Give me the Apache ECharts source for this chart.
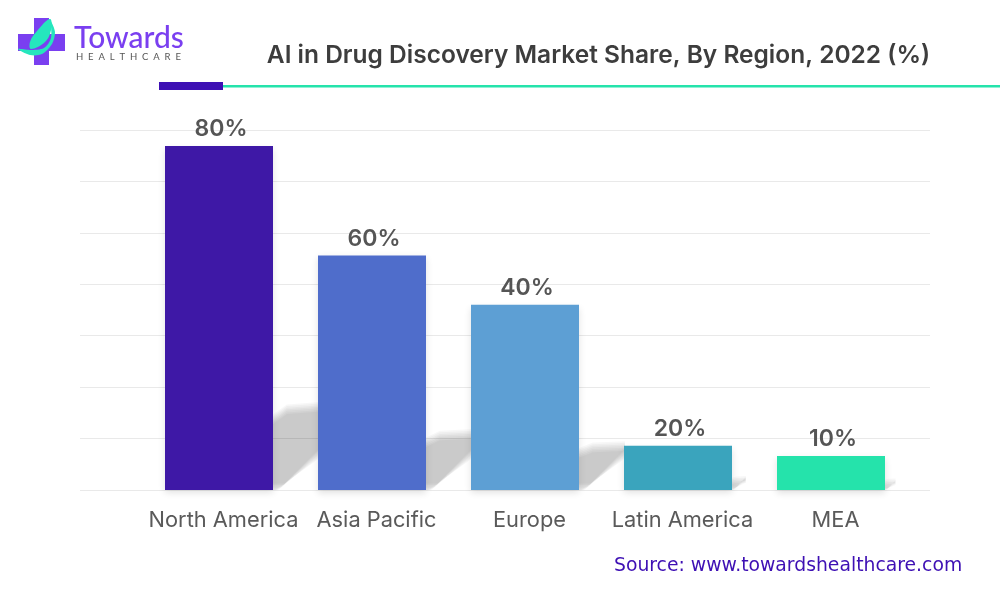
<!DOCTYPE html>
<html>
<head>
<meta charset="utf-8">
<style>html,body{margin:0;padding:0;background:#fff}#chart{width:1000px;height:593px}</style>
<script src="https://cdn.jsdelivr.net/npm/echarts@6/dist/echarts.min.js"></script>
</head>
<body>
<div id="chart"></div>
<script>
var categories = ['North America', 'Asia Pacific', 'Europe', 'Latin America', 'MEA'];
// bar heights as drawn in the picture (they do not follow the printed labels)
var barValues = [66.9, 45.6, 36, 8.6, 6.6];
var shareLabels = ['80%', '60%', '40%', '20%', '10%'];
var barColors = ['#3e18a6', '#4f6dcb', '#5d9fd4', '#3aa4bd', '#25e3ab'];

var FONT = 'Inter';
var myChart = echarts.init(document.getElementById('chart'));

// grey slanted shadow behind each bar, stacked layers give the soft edge
function renderShadow(params, api) {
    var i = api.value(0);
    var base = api.coord([i, 0]);
    var top = api.coord([i, api.value(1)]);
    var right = base[0] + 54;
    var h = (base[1] - top[1]) * 0.24;
    var len = Math.min(h * 1.3, 46);
    var y0 = base[1];
    var layers = [];
    for (var k = 0; k < 7; k++) {
        var d = k * 1.6 - 3;
        if (d > h * 0.4) break;
        layers.push({
            type: 'polygon',
            shape: {
                points: [
                    [right, y0 - Math.max(d, 0)],
                    [right + len * 0.12 + d, y0 - Math.max(d, 0)],
                    [right + len, y0 - len * 0.75 - d],
                    [right + len, y0 - h * 1.03 + d],
                    [right + len * 0.3, y0 - h * 1.0 + d],
                    [right, y0 - h * 0.88 + d]
                ]
            },
            style: { fill: 'rgba(0,0,0,0.033)' }
        });
    }
    return { type: 'group', children: layers };
}

var option = {
    animation: false,
    backgroundColor: '#fff',
    textStyle: { fontFamily: FONT },
    title: {
        text: 'AI in Drug Discovery Market Share, By Region, 2022 (%)',
        left: 593.5, top: 51, textAlign: 'center', textVerticalAlign: 'middle',
        textStyle: { fontFamily: FONT, fontSize: 24.5, fontWeight: 600, color: '#3d3d3d' }
    },
    grid: [
        { left: 80, width: 850, top: 130, height: 360 },
        { left: 142.5, width: 765, top: 130, height: 360 }
    ],
    xAxis: [
        { gridIndex: 0, type: 'value', min: 0, max: 1, show: false },
        {
            gridIndex: 1,
            type: 'category',
            data: categories,
            axisLine: { show: false },
            axisTick: { show: false },
            axisLabel: { interval: 0, margin: 19, fontSize: 21.8, color: '#5a5a5a', fontFamily: FONT, padding: [0, 0, 0, 9] }
        }
    ],
    yAxis: [
        {
            gridIndex: 0, type: 'value', min: 0, max: 70, interval: 10,
            axisLine: { show: false }, axisTick: { show: false }, axisLabel: { show: false },
            splitLine: { lineStyle: { color: '#e9e9e9', width: 1 } }
        },
        {
            gridIndex: 1, type: 'value', min: 0, max: 70, interval: 10,
            axisLine: { show: false }, axisTick: { show: false }, axisLabel: { show: false },
            splitLine: { show: false }
        }
    ],
    series: [
        {
            type: 'custom',
            xAxisIndex: 1, yAxisIndex: 1, z: 1,
            renderItem: renderShadow,
            encode: { x: 0, y: 1 },
            data: barValues.map(function (v, i) { return [i, v]; })
        },
        {
            type: 'bar',
            xAxisIndex: 1, yAxisIndex: 1, z: 2,
            barWidth: 108,
            data: barValues.map(function (v, i) {
                return {
                    value: v,
                    itemStyle: { color: barColors[i], shadowColor: 'rgba(0,0,0,0.12)', shadowBlur: 7, shadowOffsetY: 3 }
                };
            }),
            label: {
                show: true,
                position: 'top',
                distance: 5,
                offset: [2, 0],
                fontFamily: FONT,
                fontSize: 23,
                fontWeight: 600,
                color: '#555555',
                formatter: function (p) { return shareLabels[p.dataIndex]; }
            }
        }
    ],
    graphic: [
        // header rule
        { type: 'rect', shape: { x: 223, y: 85, width: 777, height: 2.5 }, style: { fill: '#25e3ab' } },
        { type: 'rect', shape: { x: 159, y: 82, width: 64, height: 8 }, style: { fill: '#3e10b4' } },
        // logo
        { type: 'polygon', shape: { points: [[34, 18], [49, 18], [49, 34], [65, 34], [65, 51], [49, 51], [49, 65], [34, 65], [34, 51], [18, 51], [18, 34], [34, 34]] }, style: { fill: '#7a3ff0' } },
        { type: 'polygon', shape: { points: [[50, 19], [51, 30], [45, 42], [31, 49], [30, 42], [37, 31]], smooth: 0.4 }, style: { fill: '#25e6bd' } },
        { type: 'polygon', shape: { points: [[18, 49], [30, 50], [44, 48], [51, 38], [51, 22], [55, 32], [52, 44], [42, 54], [30, 55]], smooth: 0.3 }, style: { fill: '#25e6bd' } },
        { type: 'text', style: { x: 74, y: 38, text: 'Towards', fontFamily: 'Lato', fontSize: 30, fontWeight: 500, fill: '#7a3ff0', verticalAlign: 'middle' } },
        { type: 'text', style: { x: 76, y: 57, text: 'H  E  A  L  T  H  C  A  R  E', fontFamily: 'Lato', fontSize: 9.5, fill: '#555555', verticalAlign: 'middle' } },
        // source
        { type: 'text', style: { x: 614, y: 566, text: 'Source: www.towardshealthcare.com', fontFamily: 'DejaVu Sans', fontSize: 18.8, fill: '#3e10b4', verticalAlign: 'middle' } }
    ]
};
myChart.setOption(option);
</script>
</body>
</html>
